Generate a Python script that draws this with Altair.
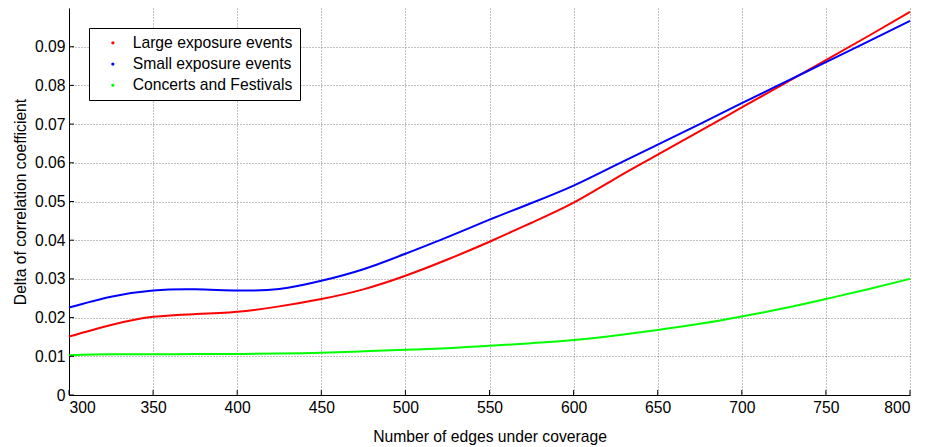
import altair as alt
import pandas as pd

edges = [300, 325, 350, 375, 400, 425, 450, 475, 500, 525, 550,
         575, 600, 625, 650, 675, 700, 725, 750, 775, 800]
large = [0.0151, 0.0181, 0.0202, 0.0209, 0.0215, 0.0229, 0.0248, 0.0273, 0.0308, 0.0350, 0.0396,
         0.0445, 0.0497, 0.0560, 0.0621, 0.0682, 0.0743, 0.0804, 0.0865, 0.0927, 0.0990]
small = [0.0226, 0.0254, 0.0270, 0.0273, 0.0270, 0.0274, 0.0295, 0.0325, 0.0365, 0.0408, 0.0453,
         0.0496, 0.0541, 0.0594, 0.0647, 0.0700, 0.0754, 0.0807, 0.0860, 0.0913, 0.0967]
concerts = [0.0103, 0.0105, 0.0105, 0.0106, 0.0106, 0.0107, 0.0109, 0.0113, 0.0117, 0.0121, 0.0127,
            0.0134, 0.0142, 0.0154, 0.0168, 0.0184, 0.0203, 0.0224, 0.0248, 0.0273, 0.0300]

series_names = ["Large exposure events", "Small exposure events", "Concerts and Festivals"]
series_colors = ["#ff0000", "#0000ff", "#00ff00"]

x_ticks = [300, 350, 400, 450, 500, 550, 600, 650, 700, 750, 800]
y_ticks = [0, 0.01, 0.02, 0.03, 0.04, 0.05, 0.06, 0.07, 0.08, 0.09]

rows = []
for name, vals in zip(series_names, [large, small, concerts]):
    for e, v in zip(edges, vals):
        rows.append({"edges": e, "delta": v, "series": name})
df = pd.DataFrame(rows)

FONT = "Liberation Sans"
FS = 15.7
xscale = alt.Scale(domain=[300, 800], nice=False, zero=False)
yscale = alt.Scale(domain=[0, 0.1], nice=False)

lines = alt.Chart(df).mark_line(strokeWidth=2, interpolate="natural").encode(
    x=alt.X("edges:Q", scale=xscale,
            axis=alt.Axis(title="Number of edges under coverage", values=x_ticks,
                          grid=True, labelPadding=5, titlePadding=15)),
    y=alt.Y("delta:Q", scale=yscale,
            axis=alt.Axis(title="Delta of correlation coefficient", values=y_ticks,
                          grid=True, labelPadding=4, titlePadding=6,
                          labelExpr="datum.value == 0 ? '0' : format(datum.value, '.2f')")),
    color=alt.Color("series:N", scale=alt.Scale(domain=series_names, range=series_colors),
                    legend=alt.Legend(title=None, orient="none", legendX=20, legendY=20,
                                      symbolType="circle", symbolSize=3, symbolStrokeWidth=1.5,
                                      symbolOffset=9, labelOffset=12, labelFontSize=FS,
                                      labelFont=FONT, labelColor="black", labelLimit=0,
                                      strokeColor="black", fillColor="white", padding=7,
                                      rowPadding=4.2, cornerRadius=0)),
)

xt = pd.DataFrame({"x": x_ticks})
xtick_marks = alt.Chart(xt).mark_rule(color="black", strokeWidth=1).encode(
    x=alt.X("x:Q", scale=xscale),
    y=alt.value(387), y2=alt.value(382),
)
yt = pd.DataFrame({"y": y_ticks})
ytick_marks = alt.Chart(yt).mark_rule(color="black", strokeWidth=1).encode(
    y=alt.Y("y:Q", scale=yscale),
    x=alt.value(0), x2=alt.value(5),
)

chart = alt.layer(lines, xtick_marks, ytick_marks).properties(
    width=841, height=387,
    autosize=alt.AutoSizeParams(type="none"),
    padding={"left": 61, "top": 0, "right": 11, "bottom": 58},
).configure(font=FONT).configure_view(stroke=None).configure_axis(
    domainColor="black", domainWidth=1, tickSize=0,
    labelFontSize=FS, labelColor="black", labelFont=FONT,
    titleFontSize=FS, titleFontWeight="normal", titleColor="black", titleFont=FONT,
    gridColor="#808080", gridDash=[1, 2], gridWidth=1,
)

chart.save("out.html", embed_options={"renderer": "svg", "actions": False})
